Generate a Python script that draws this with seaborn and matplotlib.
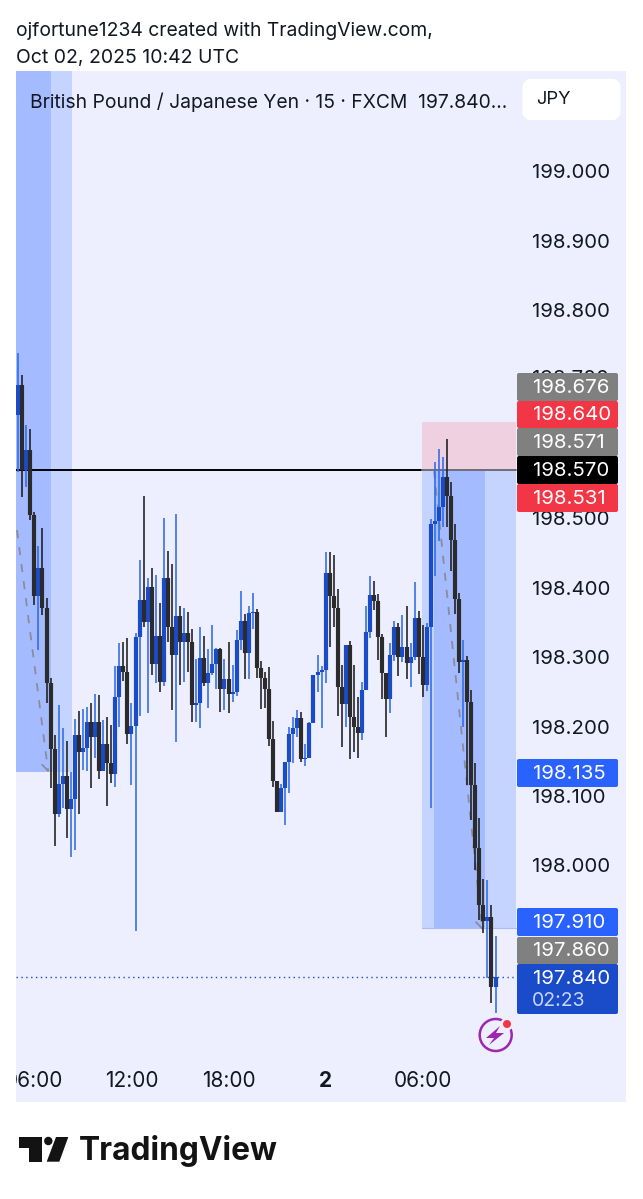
import matplotlib
matplotlib.use('Agg')
import matplotlib.pyplot as plt
from matplotlib.patches import Circle, FancyBboxPatch, Polygon, Rectangle
import numpy as np
import pandas as pd
import seaborn as sns

# candle values, GBP/JPY 15 min
opens = [198.650, 198.693, 198.571, 198.599, 198.506, 198.389, 198.429, 198.372, 198.264, 198.169,
         198.075, 198.118, 198.130, 198.082, 198.097, 198.189, 198.164, 198.170, 198.207, 198.186,
         198.207, 198.137, 198.176, 198.148, 198.133, 198.244, 198.288, 198.280, 198.190, 198.202,
         198.330, 198.383, 198.352, 198.402, 198.291, 198.331, 198.265, 198.415, 198.344, 198.304,
         198.360, 198.323, 198.336, 198.323, 198.232, 198.235, 198.300, 198.264, 198.278, 198.291,
         198.313, 198.255, 198.269, 198.248, 198.251, 198.326, 198.353, 198.307, 198.365, 198.366,
         198.285, 198.271, 198.255, 198.183, 198.122, 198.078, 198.112, 198.150, 198.190, 198.199,
         198.213, 198.154, 198.156, 198.206, 198.275, 198.280, 198.282, 198.422, 198.389, 198.372,
         198.258, 198.233, 198.318, 198.215, 198.200, 198.192, 198.254, 198.337, 198.390, 198.382,
         198.330, 198.278, 198.241, 198.304, 198.344, 198.301, 198.316, 198.292, 198.301, 198.357,
         198.301, 198.261, 198.344, 198.493, 198.497, 198.517, 198.561, 198.533, 198.470, 198.385,
         198.294, 198.297, 198.236, 198.117, 198.026, 197.944, 197.921, 197.926, 197.826]
closes = [198.693, 198.571, 198.599, 198.506, 198.389, 198.429, 198.372, 198.264, 198.169, 198.075,
          198.118, 198.130, 198.082, 198.097, 198.189, 198.164, 198.170, 198.207, 198.186, 198.207,
          198.137, 198.176, 198.148, 198.133, 198.244, 198.288, 198.280, 198.190, 198.202, 198.330,
          198.383, 198.352, 198.402, 198.291, 198.331, 198.265, 198.415, 198.344, 198.304, 198.360,
          198.323, 198.336, 198.323, 198.232, 198.235, 198.300, 198.264, 198.278, 198.291, 198.313,
          198.255, 198.269, 198.248, 198.251, 198.326, 198.353, 198.307, 198.365, 198.366, 198.285,
          198.271, 198.255, 198.183, 198.122, 198.078, 198.112, 198.150, 198.190, 198.199, 198.213,
          198.154, 198.156, 198.206, 198.275, 198.280, 198.282, 198.422, 198.389, 198.372, 198.258,
          198.233, 198.318, 198.215, 198.200, 198.192, 198.254, 198.337, 198.390, 198.382, 198.330,
          198.278, 198.241, 198.304, 198.344, 198.301, 198.316, 198.292, 198.301, 198.357, 198.301,
          198.261, 198.344, 198.493, 198.497, 198.517, 198.561, 198.533, 198.470, 198.385, 198.294,
          198.297, 198.236, 198.117, 198.026, 197.944, 197.921, 197.926, 197.826, 197.840]
highs = [198.739, 198.707, 198.635, 198.629, 198.510, 198.461, 198.487, 198.386, 198.271, 198.189,
         198.232, 198.199, 198.180, 198.135, 198.212, 198.223, 198.226, 198.229, 198.235, 198.248,
         198.246, 198.210, 198.215, 198.203, 198.288, 198.321, 198.323, 198.329, 198.235, 198.336,
         198.441, 198.533, 198.415, 198.429, 198.419, 198.379, 198.501, 198.454, 198.435, 198.507,
         198.375, 198.372, 198.366, 198.341, 198.298, 198.344, 198.331, 198.313, 198.347, 198.314,
         198.314, 198.298, 198.323, 198.290, 198.340, 198.396, 198.363, 198.375, 198.393, 198.370,
         198.295, 198.280, 198.287, 198.209, 198.122, 198.118, 198.150, 198.200, 198.215, 198.225,
         198.222, 198.176, 198.207, 198.275, 198.304, 198.288, 198.452, 198.452, 198.448, 198.399,
         198.290, 198.318, 198.324, 198.290, 198.244, 198.265, 198.375, 198.418, 198.411, 198.392,
         198.334, 198.278, 198.321, 198.353, 198.350, 198.362, 198.375, 198.321, 198.409, 198.367,
         198.347, 198.350, 198.500, 198.582, 198.601, 198.589, 198.615, 198.553, 198.493, 198.393,
         198.326, 198.303, 198.254, 198.148, 198.069, 197.981, 197.980, 197.944, 197.899]
lows = [198.568, 198.532, 198.546, 198.499, 198.376, 198.311, 198.362, 198.235, 198.112, 198.029,
        198.071, 198.084, 198.040, 198.013, 198.023, 198.075, 198.138, 198.137, 198.112, 198.156,
        198.125, 198.137, 198.086, 198.120, 198.114, 198.200, 198.267, 198.176, 198.117, 197.906,
        198.216, 198.344, 198.220, 198.275, 198.264, 198.251, 198.259, 198.323, 198.225, 198.179,
        198.261, 198.265, 198.280, 198.207, 198.207, 198.199, 198.259, 198.228, 198.275, 198.255,
        198.222, 198.225, 198.220, 198.236, 198.245, 198.311, 198.269, 198.269, 198.341, 198.271,
        198.226, 198.228, 198.173, 198.114, 198.078, 198.078, 198.059, 198.105, 198.148, 198.186,
        198.150, 198.144, 198.156, 198.206, 198.251, 198.199, 198.264, 198.316, 198.344, 198.216,
        198.171, 198.200, 198.154, 198.164, 198.156, 198.182, 198.254, 198.329, 198.369, 198.297,
        198.241, 198.186, 198.220, 198.295, 198.274, 198.294, 198.269, 198.258, 198.297, 198.277,
        198.244, 198.252, 198.084, 198.418, 198.468, 198.488, 198.488, 198.425, 198.363, 198.278,
        198.200, 198.117, 198.066, 197.994, 197.922, 197.903, 197.839, 197.803, 197.788]

# 198.600 sits fully behind the price tags in the picture
price_ticks = [199.0, 198.9, 198.8, 198.7, 198.5, 198.4, 198.3, 198.2, 198.1, 198.0]
time_ticks = [4, 28, 52, 76, 100]
time_labels = ['06:00', '12:00', '18:00', '2', '06:00']

hline_price = 198.570
last_price = 197.840
# drawn position short/long boxes: bar range and price range
left_box = (-1, 8.1, 13.3, 198.570, 198.135)
right_box = (99.8, 102.8, 115.4, 123.0, 198.640, 198.570, 197.910)
left_trend_x = [-0.3, 7.4]
left_trend_y = [198.484, 198.137]
right_trend_x = [102.8, 114.7]
right_trend_y = [198.570, 197.910]

# label text, colour, top and bottom pixel on the price scale
price_tags = [('198.676', '#808080', 373, 401), ('198.640', '#f23645', 401, 428),
              ('198.571', '#808080', 428, 456), ('198.570', '#000000', 456, 484),
              ('198.531', '#f23645', 484, 512), ('198.135', '#2962ff', 759, 787),
              ('197.910', '#2962ff', 908, 936), ('197.860', '#808080', 937, 964)]

BG = '#edeefe'
DARK_ZONE = '#a4bcff'
LIGHT_ZONE = '#c5d3ff'
PINK_ZONE = '#efd0e0'
BLUE_BODY = '#1a4bc8'
BLUE_WICK = '#2f6be6'
BLACK_BODY = '#2b2b2e'
BLACK_WICK = '#1c1c1f'
TEXT = '#131722'
SCALE_SIZE = 14.7

sns.set_theme(style='white')
plt.rcParams['font.family'] = ['Inter', 'DejaVu Sans']

df = pd.DataFrame({'bar': np.arange(len(closes)), 'open': opens, 'high': highs,
                   'low': lows, 'close': closes})
df['side'] = np.where(df['close'] >= df['open'], 'up', 'down')
wicks = df.melt(id_vars=['bar', 'side'], value_vars=['low', 'high'], value_name='price')
bodies = df.melt(id_vars=['bar', 'side'], value_vars=['open', 'close'], value_name='price')

W, H = 643, 1199
fig = plt.figure(figsize=(W / 100, H / 100), dpi=100, facecolor='white')

# main chart panel, 16..626 px wide and 71..1102 px high
ax = fig.add_axes([16 / W, 1 - 1102 / H, (626 - 16) / W, (1102 - 71) / H], facecolor=BG)
ax.set_xlim(-0.544, 150.26)
ax.set_ylim(199 - 930 / 694, 199 + 101 / 694)

# zones
ax.add_patch(Rectangle((left_box[0], left_box[4]), left_box[1] - left_box[0], 200 - left_box[4],
                       color=DARK_ZONE, lw=0, zorder=1))
ax.add_patch(Rectangle((left_box[1], left_box[4]), left_box[2] - left_box[1], 200 - left_box[4],
                       color=LIGHT_ZONE, lw=0, zorder=1))
x0, x1, x2, x3, top, mid, bot = right_box
ax.add_patch(Rectangle((x0, mid), x3 - x0, top - mid, color=PINK_ZONE, lw=0, zorder=1))
ax.add_patch(Rectangle((x0, bot), x3 - x0, mid - bot, color=LIGHT_ZONE, lw=0, zorder=1))
ax.add_patch(Rectangle((x1, bot), x2 - x1, mid - bot, color=DARK_ZONE, lw=0, zorder=1))
ax.plot([x0, x3], [bot, bot], color='#a9bcf5', lw=0.8, zorder=1.5)

# lines
ax.plot([-0.544, x0], [hline_price, hline_price], color='#000000', lw=1.4, zorder=2)
ax.plot([x0, x3], [hline_price, hline_price], color='#6d6d78', lw=1.4, zorder=2.1)
ax.plot([-0.544, x3], [last_price, last_price], color=BLUE_BODY, lw=1.0, ls=(0, (1, 2.5)), zorder=2)
for tx, ty in [(left_trend_x, left_trend_y), (right_trend_x, right_trend_y)]:
    ax.plot(tx, ty, color='#8c8c99', lw=1.3, ls=(0, (4.5, 5)), zorder=2.2)
    ax.plot([tx[1] - 1.5, tx[1]], [ty[1] + 0.009, ty[1]], color='#8c8c99', lw=1.3, zorder=2.2)

# candles
sns.lineplot(data=wicks, x='bar', y='price', units='bar', hue='side', estimator=None, sort=False,
             palette={'up': BLUE_WICK, 'down': BLACK_WICK}, linewidth=1.15, legend=False,
             solid_capstyle='butt', ax=ax, zorder=3)
sns.lineplot(data=bodies, x='bar', y='price', units='bar', hue='side', estimator=None, sort=False,
             palette={'up': BLUE_BODY, 'down': BLACK_BODY}, linewidth=3.0, legend=False,
             solid_capstyle='butt', ax=ax, zorder=3.1)

ax.set_xlabel('')
ax.set_ylabel('')
ax.set_xticks([])
ax.set_yticks([])
for s in ax.spines.values():
    s.set_visible(False)

# tick labels go on the scale side of the panel, 198.700 peeks out above the grey tag
for p in price_ticks:
    ax.text(126.95, p + 0.002 if p == 198.7 else p - 0.002, f'{p:.3f}', fontsize=SCALE_SIZE,
            color=TEXT, va='center', ha='left', zorder=4)
for t, lab in zip(time_ticks, time_labels):
    ax.text(t, 197.69, lab, fontsize=15, color=TEXT, va='center', ha='center', zorder=4, clip_on=True,
            fontweight='bold' if lab == '2' else 'normal')

# overlay in pixel coordinates for everything around the chart
ov = fig.add_axes([0, 0, 1, 1], facecolor='none')
ov.set_xlim(0, W)
ov.set_ylim(H, 0)
ov.axis('off')

ov.text(16.5, 31, 'ojfortune1234 created with TradingView.com,', fontsize=13.9, color=TEXT, va='center')
ov.text(16.5, 57.5, 'Oct 02, 2025 10:42 UTC', fontsize=14, color=TEXT, va='center')
ov.text(29.5, 102, 'British Pound / Japanese Yen · 15 · FXCM  197.840...', fontsize=13.9, color=TEXT, va='center')
ov.add_patch(FancyBboxPatch((528, 84.5), 87, 30, boxstyle='round,pad=0,rounding_size=3', fc='white', ec='white', lw=8))
ov.text(536.5, 100, 'JPY', fontsize=13.2, color=TEXT, va='center')

for txt, col, y0, y1 in price_tags:
    ov.add_patch(FancyBboxPatch((517, y0), 101, y1 - y0, boxstyle='round,pad=0,rounding_size=2',
                                fc=col, ec='none', zorder=5))
    ov.text(533, (y0 + y1) / 2 + 1, txt, fontsize=SCALE_SIZE, color='white', va='center', zorder=6)
ov.add_patch(FancyBboxPatch((517, 964), 101, 50, boxstyle='round,pad=0,rounding_size=2',
                            fc='#1a4bc8', ec='none', zorder=5))
ov.text(533, 979, '197.840', fontsize=SCALE_SIZE, color='white', va='center', zorder=6)
ov.text(532, 1001, '02:23', fontsize=14, color='#c7d5ff', va='center', zorder=6)

# alert icon
ov.add_patch(Circle((495.7, 1035), 16, fc='none', ec='#9c27b0', lw=1.8, zorder=6))
ov.add_patch(Polygon([(500, 1026), (486, 1038), (494, 1038), (489, 1045), (504, 1033), (496, 1033)],
                     fc='#9c27b0', ec='none', zorder=6))
ov.add_patch(Circle((507, 1024), 6.5, fc=BG, ec='none', zorder=6.5))
ov.add_patch(Circle((507, 1024), 4, fc='#f23645', ec='none', zorder=7))

# TradingView wordmark
LOGO = '#131313'
ov.add_patch(Polygon([(19.3, 1137), (41.7, 1137), (41.7, 1161.7), (29.3, 1161.7), (29.3, 1148), (19.3, 1148)],
                     fc=LOGO, ec='none'))
ov.add_patch(Circle((48.3, 1141), 4.2, fc=LOGO, ec='none'))
ov.add_patch(Polygon([(56, 1137), (68.3, 1137), (59.3, 1161.7), (46.7, 1161.7)], fc=LOGO, ec='none'))
ov.text(78.5, 1151, 'TradingView', fontsize=22.8, fontweight='bold', color=LOGO, va='center')

fig.savefig('out.png', dpi=100)
